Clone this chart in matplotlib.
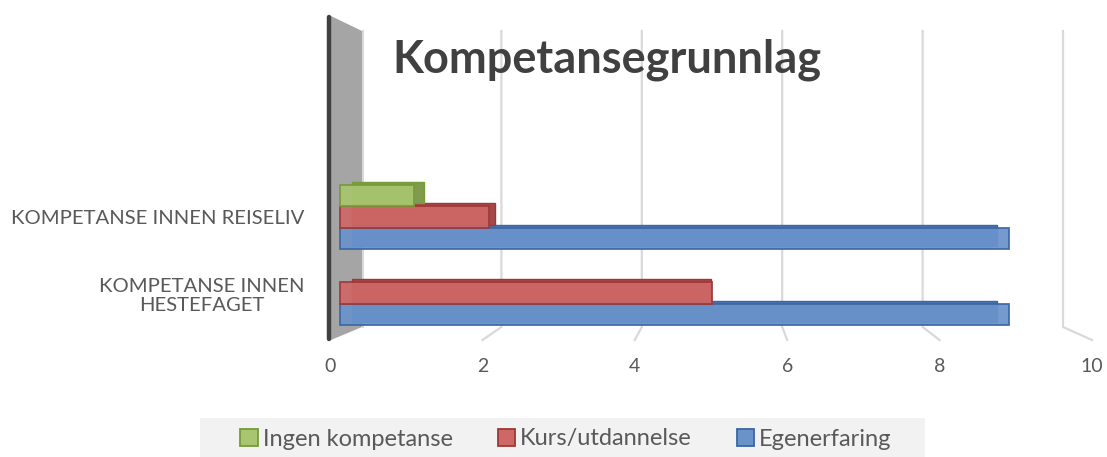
import numpy as np
import matplotlib.pyplot as plt
from matplotlib.patches import Patch, Polygon, Rectangle
from matplotlib.transforms import Affine2D

plt.rcParams['font.family'] = ['Lato', 'DejaVu Sans']

# data
categories = ["KOMPETANSE INNEN\nHESTEFAGET", "KOMPETANSE INNEN REISELIV"]
egenerfaring = [9, 9]
kurs = [5, 2]
ingen = [0, 1]
ticks = [0, 2, 4, 6, 8, 10]

W, H = 1107, 457
fig = plt.figure(figsize=(W / 100, H / 100), dpi=100)

# plot area in pixels (image coords, y down)
L, R, T, B = 320, 1100, 16, 340
ax = fig.add_axes([L / W, 1 - B / H, (R - L) / W, (B - T) / H])

# front face of the bars: value 0 at x=340px, 74.3px per unit
# categories 76px apart, category 0 at y=293px
X0, SX = 340, 74.3
Y0, SY = 293, 76


def px(x):
    return (x - X0) / SX


def py(y):
    return (Y0 - y) / SY


ax.set_xlim(px(L), px(R))
ax.set_ylim(py(B), py(T))
for s in ax.spines.values():
    s.set_visible(False)
ax.set_facecolor('none')

# fake 3d walls: grey side wall, back wall grid, floor lines
ax.add_patch(Polygon([(px(331), py(16)), (px(362), py(31)), (px(362), py(327)), (px(331), py(340))],
                     closed=True, facecolor='#a5a5a5', edgecolor='none', zorder=1, clip_on=False))
ax.plot([px(363), px(363)], [py(31), py(327)], color='#d9d9d9', lw=1.5, zorder=1, clip_on=False)
for v in ticks[1:]:
    xb = px(361 + 70.2 * v)
    xf = px(330 + 76.2 * v)
    ax.plot([xb, xb, xf], [py(31), py(327), py(340)], color='#d9d9d9', lw=1.6, zorder=1, clip_on=False)
ax.plot([px(329), px(329)], [py(17), py(339)], color='#404040', lw=3.2,
        solid_capstyle='round', zorder=6, clip_on=False)

# bars: front face + offset back face for depth
h = 21.5 / SY
back = Affine2D().scale(71.7 / SX, 1).translate(12 / SX, 3 / SY) + ax.transData
y = np.arange(len(categories))
styles = [
    (egenerfaring, -h, '#6a93ca', '#4a76b2', '#3b66a3'),
    (kurs, 0, '#cd6867', '#a64848', '#9e3836'),
    (ingen, h, '#a8c56f', '#7f9b4c', '#779a3b'),
]
for i, (vals, off, face, side, edge) in enumerate(styles):
    vals = np.array(vals, dtype=float)
    keep = vals > 0
    ax.barh(y[keep] + off, vals[keep], height=h, color=side, edgecolor=edge,
            lw=1, transform=back, zorder=2 + i * 0.1)
    ax.barh(y[keep] + off, vals[keep], height=h, color=face, edgecolor=edge,
            lw=1.3, alpha=0.93, zorder=3 + i * 0.1)

ax.set_xticks([px(330 + 76.2 * v) for v in ticks], [str(v) for v in ticks])
ax.set_yticks(y, categories)
ax.tick_params(axis='x', length=0, pad=13, labelsize=14, labelcolor='#595959')
ax.tick_params(axis='y', length=0, pad=11, labelsize=14.6, labelcolor='#595959')
for lab in ax.get_yticklabels():
    lab.set_multialignment('center')
    lab.set_y(lab.get_position()[1])

fig.text(607 / W, 1 - 72 / H, "Kompetansegrunnlag", ha='center', va='baseline',
         fontsize=32.5, fontweight='bold', color='#404040')

# legend
fig.patches.append(Rectangle((200 / W, 0), 725 / W, 39 / H, transform=fig.transFigure,
                             facecolor='#f2f2f2', edgecolor='none', zorder=0))
handles = [Patch(facecolor='#a8c56f', edgecolor='#779a3b', lw=1.3),
           Patch(facecolor='#cd6867', edgecolor='#9e3836', lw=1.3),
           Patch(facecolor='#6a93ca', edgecolor='#3b66a3', lw=1.3)]
fig.legend(handles, ["Ingen kompetanse", "Kurs/utdannelse", "Egenerfaring"],
           loc='center', bbox_to_anchor=(566 / W, 1 - 439 / H), ncol=3, frameon=False,
           fontsize=17, labelcolor='#595959', handlelength=0.75, handleheight=0.75,
           handletextpad=0.2, columnspacing=1.9)

fig.savefig('out.png', dpi=100)
